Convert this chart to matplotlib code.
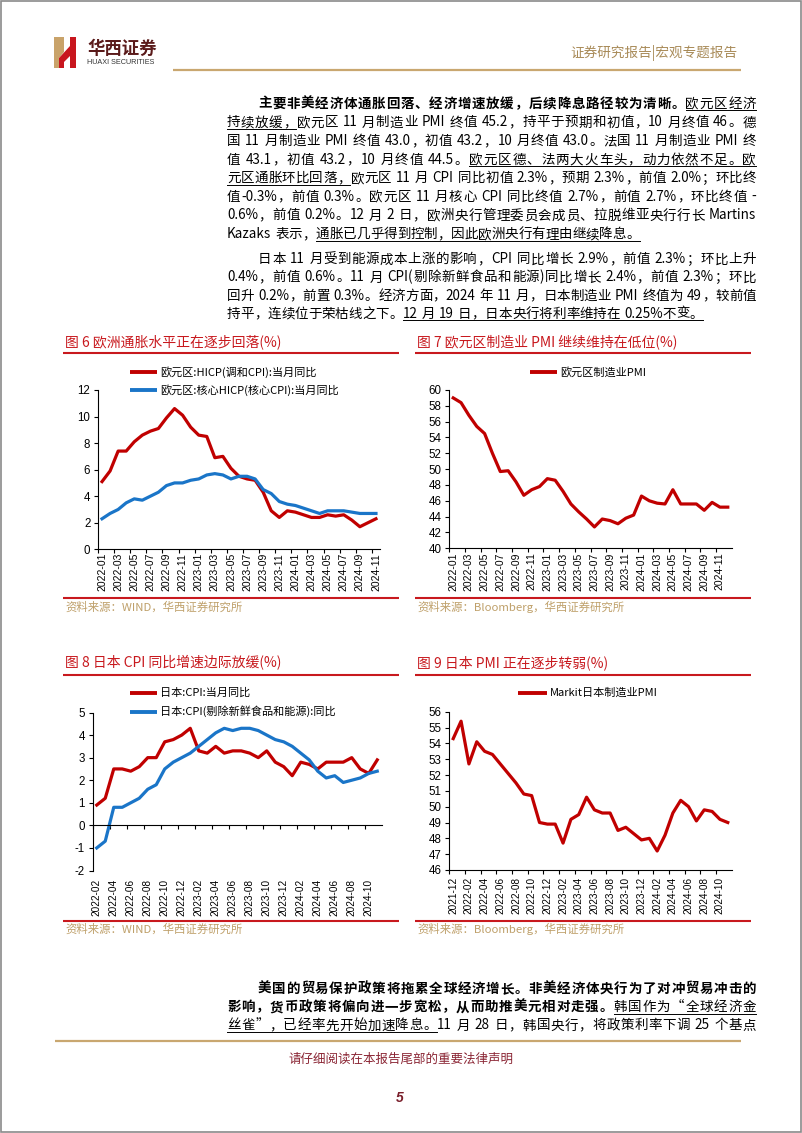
import numpy as np
import pandas as pd
import matplotlib
matplotlib.use('Agg')
import matplotlib.pyplot as plt
from matplotlib.font_manager import FontProperties
from matplotlib.patches import Rectangle, Polygon

# ---- data ----
months_ez = pd.period_range('2022-01', '2024-11', freq='M').strftime('%Y-%m').tolist()
hicp = [5.1, 5.9, 7.4, 7.4, 8.1, 8.6, 8.9, 9.1, 9.9, 10.6, 10.1, 9.2,
        8.6, 8.5, 6.9, 7.0, 6.1, 5.5, 5.3, 5.2, 4.3, 2.9, 2.4, 2.9,
        2.8, 2.6, 2.4, 2.4, 2.6, 2.5, 2.6, 2.2, 1.7, 2.0, 2.3]
core_hicp = [2.3, 2.7, 3.0, 3.5, 3.8, 3.7, 4.0, 4.3, 4.8, 5.0, 5.0, 5.2,
             5.3, 5.6, 5.7, 5.6, 5.3, 5.5, 5.5, 5.3, 4.5, 4.2, 3.6, 3.4,
             3.3, 3.1, 2.9, 2.7, 2.9, 2.9, 2.9, 2.8, 2.7, 2.7, 2.7]

months_ez_pmi = pd.period_range('2022-01', '2024-12', freq='M').strftime('%Y-%m').tolist()
ez_pmi = [59.0, 58.4, 56.8, 55.4, 54.5, 52.0, 49.7, 49.8, 48.4, 46.7, 47.4, 47.8,
          48.8, 48.6, 47.2, 45.6, 44.6, 43.7, 42.7, 43.7, 43.5, 43.1, 43.8, 44.2,
          46.6, 46.0, 45.7, 45.6, 47.4, 45.6, 45.6, 45.6, 44.8, 45.8, 45.2, 45.2]

months_jp = pd.period_range('2022-02', '2024-11', freq='M').strftime('%Y-%m').tolist()
jp_cpi = [0.9, 1.2, 2.5, 2.5, 2.4, 2.6, 3.0, 3.0, 3.7, 3.8, 4.0,
          4.3, 3.3, 3.2, 3.5, 3.2, 3.3, 3.3, 3.2, 3.0, 3.3, 2.8, 2.6,
          2.2, 2.8, 2.7, 2.5, 2.8, 2.8, 2.8, 3.0, 2.5, 2.3, 2.9]
jp_core = [-1.0, -0.7, 0.8, 0.8, 1.0, 1.2, 1.6, 1.8, 2.5, 2.8, 3.0,
           3.2, 3.5, 3.8, 4.1, 4.3, 4.2, 4.3, 4.3, 4.2, 4.0, 3.8, 3.7,
           3.5, 3.2, 2.9, 2.4, 2.1, 2.2, 1.9, 2.0, 2.1, 2.3, 2.4]

months_jp_pmi = pd.period_range('2021-12', '2024-11', freq='M').strftime('%Y-%m').tolist()
jp_pmi = [54.3, 55.4, 52.7, 54.1, 53.5, 53.3, 52.7, 52.1, 51.5, 50.8, 50.7, 49.0, 48.9,
          48.9, 47.7, 49.2, 49.5, 50.6, 49.8, 49.6, 49.6, 48.5, 48.7, 48.3, 47.9,
          48.0, 47.2, 48.2, 49.6, 50.4, 50.0, 49.1, 49.8, 49.7, 49.2, 49.0]

# body text: (text, style) with style n=normal, b=bold, u=underline
para1 = [
    [("主要非美经济体通胀回落、经济增速放缓，后续降息路径较为清晰。", 'b'), ("欧元区经济", 'u')],
    [("持续放缓，", 'u'), ("欧元区 11 月制造业 PMI 终值 45.2，持平于预期和初值，10 月终值 46。德", 'n')],
    [("国 11 月制造业 PMI 终值 43.0，初值 43.2，10 月终值 43.0。法国 11 月制造业 PMI 终", 'n')],
    [("值 43.1，初值 43.2，10 月终值 44.5。", 'n'), ("欧元区德、法两大火车头，动力依然不足。欧", 'u')],
    [("元区通胀环比回落，", 'u'), ("欧元区 11 月 CPI 同比初值 2.3%，预期 2.3%，前值 2.0%；环比终", 'n')],
    [("值-0.3%，前值 0.3%。欧元区 11 月核心 CPI 同比终值 2.7%，前值 2.7%，环比终值 -", 'n')],
    [("0.6%，前值 0.2%。12 月 2 日，欧洲央行管理委员会成员、拉脱维亚央行行长 Martins", 'n')],
    [("Kazaks 表示，", 'n'), ("通胀已几乎得到控制，因此欧洲央行有理由继续降息。", 'u')],
]
para2 = [
    [("日本 11 月受到能源成本上涨的影响，CPI 同比增长 2.9%，前值 2.3%；环比上升", 'n')],
    [("0.4%，前值 0.6%。11 月 CPI(剔除新鲜食品和能源)同比增长 2.4%，前值 2.3%；环比", 'n')],
    [("回升 0.2%，前置 0.3%。经济方面，2024 年 11 月，日本制造业 PMI 终值为 49，较前值", 'n')],
    [("持平，连续位于荣枯线之下。", 'n'), ("12 月 19 日，日本央行将利率维持在 0.25%不变。", 'u')],
]
para3 = [
    [("美国的贸易保护政策将拖累全球经济增长。非美经济体央行为了对冲贸易冲击的", 'b')],
    [("影响，货币政策将偏向进一步宽松，从而助推美元相对走强。", 'b'), ("韩国作为“全球经济金", 'u')],
    [("丝雀”，已经率先开始加速降息。", 'u'), ("11 月 28 日，韩国央行，将政策利率下调 25 个基点", 'n')],
]

# ---- page setup ----
W, H = 802, 1133
plt.rcParams['font.family'] = ['Liberation Sans', 'Noto Sans CJK SC', 'DejaVu Sans']
plt.rcParams['axes.unicode_minus'] = False

fig = plt.figure(figsize=(W / 100, H / 100), dpi=100)
page = fig.add_axes([0, 0, 1, 1])
page.set_xlim(0, W)
page.set_ylim(H, 0)
page.axis('off')

CJK = 'Noto Sans CJK SC'
RED = '#c00000'
BLUE = '#1a75c8'
TITLE_RED = '#c8191e'
TAN = '#bfa06a'
GOLD = '#c9a770'

# border
page.add_patch(Rectangle((0.8, 0.8), W - 1.6, H - 1.6, fill=False, ec='#8a8a8a', lw=1.2))

# header logo
page.add_patch(Rectangle((54, 37), 5, 31, color='#c9a36a', lw=0))
page.add_patch(Polygon([[59, 37], [64, 37], [64, 52], [59, 58]], color='#c9a36a', lw=0))
page.add_patch(Polygon([[59, 58], [70, 46], [70, 56], [64, 62], [64, 68], [59, 68]], color='#c8161e', lw=0))
page.add_patch(Rectangle((70, 37), 6, 31, color='#c8161e', lw=0))
page.text(87, 49, "华西证券", fontsize=12.5, fontweight='bold', family=CJK, color='#5a1a1a', va='center')
page.text(87, 63, "HUAXI SECURITIES", fontsize=5.2, color='#333333', va='center')
page.text(737, 53, "证券研究报告|宏观专题报告", fontsize=9.8, family=CJK, color='#a88a57', va='center', ha='right')
page.plot([173, 741], [70, 70], color=GOLD, lw=1.6, solid_capstyle='butt')

# footer
page.plot([55, 741], [1041, 1041], color=GOLD, lw=1.6, solid_capstyle='butt')
page.text(401, 1059, "请仔细阅读在本报告尾部的重要法律声明", fontsize=9, family=CJK, color='#8a2433', ha='center', va='center')
page.text(400, 1098, "5", fontsize=10, fontweight='bold', style='italic', color='#7a1f2b', ha='center', va='center')

# ---- justified body text ----
EM = 13.5
fp = {'n': FontProperties(family=CJK, size=EM * 0.72),
      'u': FontProperties(family=CJK, size=EM * 0.72),
      'b': FontProperties(family=CJK, size=EM * 0.72, weight='bold')}
renderer = fig.canvas.get_renderer()


def is_wide(c):
    return ord(c[0]) >= 0x2E80 or c[0] in '“”‘’'


def tokenize(segments):
    units = []
    space = False
    for text, st in segments:
        i = 0
        while i < len(text):
            c = text[i]
            if c == ' ':
                space = True
                i += 1
                continue
            if is_wide(c):
                units.append([c, st, space])
                i += 1
            else:
                j = i
                while j < len(text) and text[j] != ' ' and not is_wide(text[j]):
                    j += 1
                units.append([text[i:j], st, space])
                i = j
            space = False
    return units


def text_width(s, prop):
    t = page.text(0, 0, s, fontproperties=prop)
    w = t.get_window_extent(renderer).width
    t.remove()
    return w


def draw_line(y, segments, x0, x1, justify=True):
    units = tokenize(segments)
    widths = [EM if is_wide(u[0]) else text_width(u[0], fp[u[1]]) for u in units]
    gaps = [(0.3 * EM if u[2] else 0.0) for u in units]
    gaps[0] = 0.0
    natural = sum(widths) + sum(gaps)
    extra = (x1 - x0 - natural) / (len(units) - 1) if justify and len(units) > 1 else 0.0
    base = y + 0.36 * EM
    x = x0
    spans = []
    for k, (u, w) in enumerate(zip(units, widths)):
        if k > 0:
            x += gaps[k] + extra
        page.text(x, base, u[0], fontproperties=fp[u[1]], va='baseline', ha='left', color='black')
        if u[1] == 'u':
            if spans and spans[-1][2] == k - 1:
                spans[-1][1] = x + w
                spans[-1][2] = k
            else:
                spans.append([x, x + w, k])
        x += w
    for a, b, _ in spans:
        page.plot([a, b], [base + 2.6, base + 2.6], color='black', lw=0.7)


def draw_paragraph(lines, y0, step, last_justify=False):
    for i, segs in enumerate(lines):
        x0 = 258 if i == 0 else 227
        last = i == len(lines) - 1
        draw_line(y0 + i * step, segs, x0, 756, justify=(not last) or last_justify)


draw_paragraph(para1, 103, 18.6)
draw_paragraph(para2, 258.5, 18.1)
draw_paragraph(para3, 988, 18.3, last_justify=True)


# ---- chart helpers ----
def px_axes(l, t, r, b):
    ax = fig.add_axes([l / W, 1 - b / H, (r - l) / W, (b - t) / H])
    ax.patch.set_alpha(0)
    for s in ['top', 'right']:
        ax.spines[s].set_visible(False)
    for s in ['left', 'bottom']:
        ax.spines[s].set_linewidth(0.8)
    return ax


def category_axis(ax, labels, ylo, yhi, ystep, xpad, xsize=7.5):
    n = len(labels)
    ax.set_xlim(-0.5, n - 0.5)
    ax.set_ylim(ylo, yhi)
    ax.set_yticks(np.arange(ylo, yhi + ystep / 2, ystep))
    idx = np.arange(0, n, 2)
    ax.set_xticks(idx)
    ax.set_xticklabels([labels[i] for i in idx], rotation=90, va='top')
    ax.set_xticks(np.arange(-0.5, n - 0.5, 2), minor=True)
    ax.tick_params(axis='x', which='major', length=0, labelsize=xsize, pad=xpad)
    ax.tick_params(axis='x', which='minor', length=3, width=0.8, direction='out')
    ax.tick_params(axis='y', length=3, width=0.8, direction='out', labelsize=8.3, pad=2.5)


def chart_frame(x0, x1, ytitle, yline, ybottom, ysrc, title, source):
    page.text(x0 + 2, ytitle, title, family=CJK, fontsize=10, color=TITLE_RED, va='center')
    page.plot([x0, x1], [yline, yline], color=TITLE_RED, lw=1.5, solid_capstyle='butt')
    page.plot([x0, x1], [ybottom, ybottom], color=TITLE_RED, lw=1.5, solid_capstyle='butt')
    page.text(x0 + 2, ysrc, source, family=CJK, fontsize=8.2, color=TAN, va='center')


def legend_row(x0, x1, y, color, label):
    page.plot([x0, x1], [y, y], color=color, lw=2.8, solid_capstyle='butt')
    page.text(x1 + 3, y, label, family=CJK, fontsize=8, color='black', va='center')


# chart 6
chart_frame(63, 399, 342, 353, 598, 607, "图 6 欧洲通胀水平正在逐步回落(%)", "资料来源：WIND，华西证券研究所")
ax6 = px_axes(98, 390, 380, 549.3)
x6 = np.arange(len(months_ez))
ax6.plot(x6, hicp, color=RED, lw=2.3)
ax6.plot(x6, core_hicp, color=BLUE, lw=2.3)
category_axis(ax6, months_ez, 0, 12, 2, xpad=2.5)
legend_row(130, 157, 372, RED, "欧元区:HICP(调和CPI):当月同比")
legend_row(130, 157, 390, BLUE, "欧元区:核心HICP(核心CPI):当月同比")

# chart 7
chart_frame(415, 751, 342, 353, 598, 607, "图 7 欧元区制造业 PMI 继续维持在低位(%)", "资料来源：Bloomberg，华西证券研究所")
ax7 = px_axes(449.3, 390, 731.7, 548.3)
ax7.plot(np.arange(len(months_ez_pmi)), ez_pmi, color=RED, lw=2.3)
category_axis(ax7, months_ez_pmi, 40, 60, 2, xpad=3)
legend_row(530, 557, 372, RED, "欧元区制造业PMI")

# chart 8 (x axis line sits at zero, labels stay at the bottom)
chart_frame(63, 399, 663, 674.5, 921, 929, "图 8 日本 CPI 同比增速边际放缓(%)", "资料来源：WIND，华西证券研究所")
ax8 = px_axes(92.5, 712.5, 381.5, 870.5)
ax8.spines['bottom'].set_position(('data', 0))
x8 = np.arange(len(months_jp))
ax8.plot(x8, jp_cpi, color=RED, lw=2.3)
ax8.plot(x8, jp_core, color=BLUE, lw=2.3)
category_axis(ax8, months_jp, -2, 5, 1, xpad=(878 - 824.3) * 0.72, xsize=7.2)
legend_row(130, 157, 693, RED, "日本:CPI:当月同比")
legend_row(130, 157, 711.5, BLUE, "日本:CPI(剔除新鲜食品和能源):同比")

# chart 9
chart_frame(415, 751, 663, 674.5, 921, 929, "图 9 日本 PMI 正在逐步转弱(%)", "资料来源：Bloomberg，华西证券研究所")
ax9 = px_axes(449.3, 711.7, 731.7, 870)
ax9.plot(np.arange(len(months_jp_pmi)), jp_pmi, color=RED, lw=2.3)
category_axis(ax9, months_jp_pmi, 46, 56, 1, xpad=5, xsize=7.2)
legend_row(518, 547, 693, RED, "Markit日本制造业PMI")

fig.savefig('out.png', dpi=100)
